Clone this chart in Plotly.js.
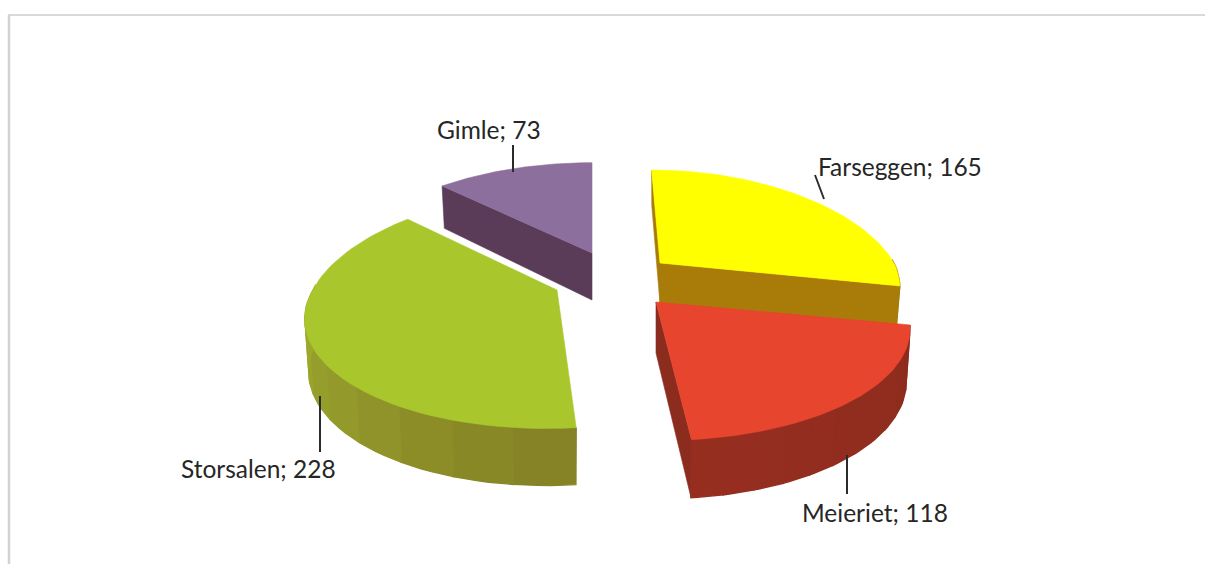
<!DOCTYPE html>
<html>
<head>
<meta charset="utf-8">
<script src="https://cdn.plot.ly/plotly-3.0.1.min.js"></script>
<style>html,body{margin:0;padding:0;background:#fff}#c{width:1205px;height:564px}</style>
</head>
<body>
<div id="c"></div>
<script>
// Data
const categories = ["Farseggen", "Meieriet", "Storsalen", "Gimle"];
const values = [165, 118, 228, 73];

// Styles
const topColors = ["#ffff00", "#e8452e", "#a9c72c", "#8d6f9e"];
const faceColors = ["#a97c0a", "#8c2c1e", "#868428", "#5a3b58"];
const rimFromColors = [[168,124,10], [140,44,30], [134,130,38], [90,59,88]];
const rimToColors = [[168,124,10], [150,46,32], [170,192,48], [90,59,88]];

// Projection of each exploded slice
const apexX = [660, 656, 557, 592];
const apexY = [263, 302, 290, 253];
const radiusX = [234, 247, 244, 245];
const radiusY = 108;
const perspective = 0.22;
const skewBack = [0.09, 0, 0, 0];
const skewFront = [0, 0.036, -0.08, 0];
const backStretch = [0.05, 0, 0.1, 0.02];
const thickness = [41, 51, 50, 47];
// Order slices are painted in, back to front
const paintOrder = [3, 0, 2, 1];
// Which radial faces show: [start face, end face]
const showFaces = [[true, true], [false, true], [false, false], [true, false]];

// Labels
const labelX = [900, 875, 258, 489];
const labelY = [166, 512, 468, 129];
const leaderX = [[815, 824], [847, 847], [320, 320], [513, 513]];
const leaderY = [[175, 199], [455, 494], [396, 452], [145, 172]];

const total = values.reduce((a, b) => a + b, 0);
const traces = [];

function project(i, deg, r) {
  const t = deg * Math.PI / 180;
  const u = r * Math.sin(t), v = -r * Math.cos(t);
  const d = 1 - perspective * v;
  let dy = radiusY * v / d;
  if (v < 0) dy *= 1 + backStretch[i] * (-v);
  const dx = radiusX[i] * u / d + (v < 0 ? skewBack[i] : skewFront[i]) * dy;
  return { x: apexX[i] + dx, y: apexY[i] + dy, v: v };
}
function drop(i, p) {
  const h = thickness[i] * (1 + 0.14 * p.v);
  return { x: apexX[i] + (p.x - apexX[i]) * 0.985, y: p.y + h };
}
function poly(pts, color, lw) {
  pts = pts.concat([pts[0]]);
  traces.push({
    type: "scatter", mode: "lines", x: pts.map(p => p.x), y: pts.map(p => p.y),
    fill: "toself", fillcolor: color, line: { color: color, width: lw },
    hoverinfo: "skip", showlegend: false
  });
}
function mix(a, b, f) {
  return "rgb(" + a.map((c, k) => Math.round(c + (b[k] - c) * f)).join(",") + ")";
}

const starts = [];
let acc = 0;
values.forEach(v => { starts.push(acc); acc += v / total * 360; });

paintOrder.forEach(i => {
  const a0 = starts[i], a1 = a0 + values[i] / total * 360;
  const apex = project(i, 0, 0);
  // Radial faces
  [a0, a1].forEach((a, k) => {
    if (!showFaces[i][k]) return;
    const p = project(i, a, 1);
    poly([apex, p, drop(i, p), drop(i, apex)], faceColors[i], 0.6);
  });
  // Rim, front-facing part only, painted as bands of arc points
  const n = 60, bands = 12;
  for (let b = 0; b < bands; b++) {
    const upper = [], lower = [];
    for (let s = 0; s <= Math.ceil(n / bands); s++) {
      const a = a0 + (a1 - a0) * (b + s / Math.ceil(n / bands)) / bands;
      const p = project(i, a, 1);
      if (p.v < -0.05) continue;
      upper.push(p); lower.unshift(drop(i, p));
    }
    if (upper.length > 1) poly(upper.concat(lower), mix(rimFromColors[i], rimToColors[i], b / (bands - 1)), 1.4);
  }
  // Top
  const top = [apex];
  for (let s = 0; s <= 60; s++) top.push(project(i, a0 + (a1 - a0) * s / 60, 1));
  poly(top, topColors[i], 0.6);
});

// Leader lines
categories.forEach((c, i) => {
  traces.push({
    type: "scatter", mode: "lines", x: leaderX[i], y: leaderY[i],
    line: { color: "#2b2b2b", width: 2 }, hoverinfo: "skip", showlegend: false
  });
});

const layout = {
  width: 1205, height: 564,
  margin: { l: 0, r: 0, t: 0, b: 0 },
  paper_bgcolor: "#ffffff", plot_bgcolor: "#ffffff",
  showlegend: false,
  xaxis: { range: [0, 1205], visible: false, fixedrange: true },
  yaxis: { range: [564, 0], visible: false, fixedrange: true },
  shapes: [
    { type: "line", x0: 8, x1: 1205, y0: 15, y1: 15, line: { color: "#d9d9d9", width: 2 } },
    { type: "line", x0: 9, x1: 9, y0: 15, y1: 564, line: { color: "#d2d2d2", width: 2.5 } }
  ],
  annotations: categories.map((c, i) => ({
    x: labelX[i], y: labelY[i], xref: "x", yref: "y",
    text: c + "; " + values[i], showarrow: false,
    xanchor: "center", yanchor: "middle",
    font: { family: "Lato, 'Open Sans', sans-serif", size: 24.5, color: "#262626" }
  }))
};
Plotly.newPlot("c", traces, layout, { displayModeBar: false, staticPlot: true });
</script>
</body>
</html>
